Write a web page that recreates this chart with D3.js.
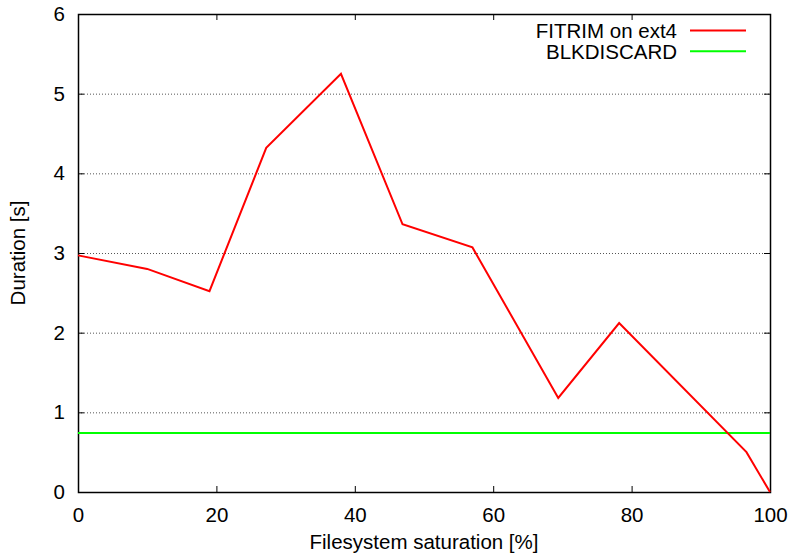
<!DOCTYPE html>
<html>
<head>
<meta charset="utf-8">
<script src="https://cdn.jsdelivr.net/npm/d3@7"></script>
<style>
  body { margin: 0; background: #fff; }
  svg text { font-family: "Liberation Sans", Arial, sans-serif; font-size: 20.5px; fill: #000; }
</style>
</head>
<body>
<svg class="graph" width="793" height="555"></svg>
<script>
// data
var saturation = [0, 10, 19, 27.2, 38, 46.9, 57, 69.4, 78.2, 96.6, 100];
var fitrim = [2.97, 2.80, 2.52, 4.32, 5.25, 3.36, 3.07, 1.18, 2.12, 0.50, 0];
var blkdiscard = 0.74;
var xTicks = [0, 20, 40, 60, 80, 100];
var yTicks = [0, 1, 2, 3, 4, 5, 6];
var seriesNames = ["FITRIM on ext4", "BLKDISCARD"];
var seriesColors = ["#ff0000", "#00ff00"];

var margin = {top: 14, left: 78, bottom: 63, right: 23};
var width = 793, height = 555;
var chartWidth = width - margin.left - margin.right;
var chartHeight = height - margin.top - margin.bottom;

var svg = d3.select(".graph");
var chart = svg.append("g")
  .attr("transform", "translate(" + [margin.left, margin.top] + ")");

var x = d3.scaleLinear().domain([0, 100]).range([0, chartWidth]);
var y = d3.scaleLinear().domain([0, 6]).range([chartHeight, 0]);

// dotted grid
chart.append("g")
  .selectAll("line")
  .data(yTicks.filter(function (d) { return d > 0 && d < 6; }))
  .enter().append("line")
  .attr("x1", 0).attr("x2", chartWidth)
  .attr("y1", function (d) { return y(d) + 0.5; })
  .attr("y2", function (d) { return y(d) + 0.5; })
  .attr("stroke", "#555")
  .attr("stroke-width", 1)
  .attr("stroke-dasharray", "1,2");

// axes, ticks pointing inward, mirrored
function styleAxis(g) {
  g.select(".domain").remove();
  g.selectAll(".tick line").attr("stroke", "#000");
  g.selectAll(".tick text").style("font-size", "20.5px");
}

chart.append("g")
  .attr("transform", "translate(0," + chartHeight + ")")
  .call(d3.axisBottom(x).tickValues(xTicks).tickSizeInner(-6).tickSizeOuter(0).tickPadding(15))
  .call(styleAxis);
chart.append("g")
  .call(d3.axisTop(x).tickValues(xTicks).tickSizeInner(-6).tickSizeOuter(0).tickFormat(""))
  .call(styleAxis);
chart.append("g")
  .call(d3.axisLeft(y).tickValues(yTicks).tickSizeInner(-6).tickSizeOuter(0).tickPadding(13).tickFormat(d3.format("d")))
  .call(styleAxis);
chart.append("g")
  .attr("transform", "translate(" + chartWidth + ",0)")
  .call(d3.axisRight(y).tickValues(yTicks).tickSizeInner(-6).tickSizeOuter(0).tickFormat(""))
  .call(styleAxis);

// border
chart.append("rect")
  .attr("x", 0.5).attr("y", 0.5)
  .attr("width", chartWidth).attr("height", chartHeight)
  .attr("fill", "none").attr("stroke", "#000").attr("stroke-width", 1.5);

// series
var line = d3.line()
  .x(function (d, i) { return x(saturation[i]); })
  .y(function (d) { return y(d); });

chart.append("line")
  .attr("x1", x(0)).attr("x2", x(100))
  .attr("y1", y(blkdiscard)).attr("y2", y(blkdiscard))
  .attr("stroke", seriesColors[1]).attr("stroke-width", 2);

chart.append("path")
  .datum(fitrim)
  .attr("d", line)
  .attr("fill", "none")
  .attr("stroke", seriesColors[0])
  .attr("stroke-width", 2)
  .attr("stroke-linejoin", "miter");

// legend
var legend = svg.append("g").attr("transform", "translate(677,30.5)");
var item = legend.selectAll("g")
  .data(seriesNames)
  .enter().append("g")
  .attr("transform", function (d, i) { return "translate(0," + (i * 20.7) + ")"; });
item.append("text")
  .attr("text-anchor", "end")
  .attr("dy", "0.36em")
  .text(function (d) { return d; });
item.append("line")
  .attr("x1", 13).attr("x2", 69)
  .attr("stroke", function (d, i) { return seriesColors[i]; })
  .attr("stroke-width", 2);

// axis titles
svg.append("text")
  .attr("x", margin.left + chartWidth / 2)
  .attr("y", 549)
  .attr("text-anchor", "middle")
  .text("Filesystem saturation [%]");

svg.append("text")
  .attr("transform", "translate(25," + (margin.top + chartHeight / 2) + ") rotate(-90)")
  .attr("text-anchor", "middle")
  .text("Duration [s]");
</script>
</body>
</html>
